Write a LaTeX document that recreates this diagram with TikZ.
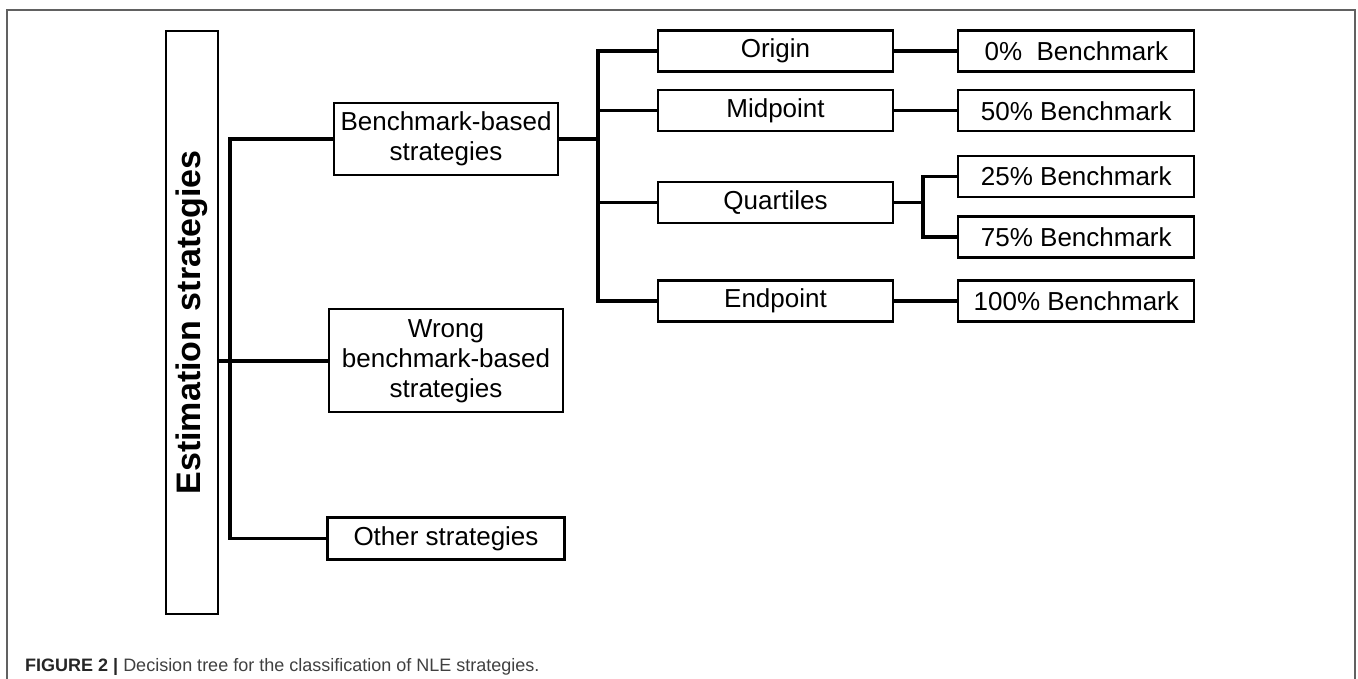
\documentclass[tikz,border=0pt]{standalone}
\usepackage{fontspec}
\setmainfont{Liberation Sans}
\usepackage{tikz}
\usetikzlibrary{positioning}

\begin{document}
\begin{tikzpicture}[x=1pt, y=-1pt, node distance=17pt,
    box/.style={draw, line width=2.3pt, inner sep=0pt, minimum width=235pt, minimum height=41pt, align=center,
      font=\fontsize{26}{30}\selectfont},
    conn/.style={line width=3.4pt},
    frame/.style={draw=black!62, line width=1.5pt}]
    \useasboundingbox (0,0) rectangle (1358,679);
    \draw[frame] (7,679) -- (7,10) -- (1355,10) -- (1355,679);

    \node[box, minimum width=52pt, minimum height=583pt] (est) at (192,322.5)
        {\rotatebox{90}{\fontsize{34}{40}\selectfont\bfseries Estimation strategies}};
    \node[box, minimum width=224pt, minimum height=72pt] (bench) at (446,139) {Benchmark-based\\strategies};
    \node[box, minimum width=234pt, minimum height=103pt] (wrong) [below=132pt of bench] {Wrong\\benchmark-based\\strategies};
    \node[box, minimum width=237pt, minimum height=42pt] (other) [below=103pt of wrong] {Other strategies};

    \node[box] (origin) at (775.5,51) {Origin};
    \node[box] (midpoint) [below=16.5pt of origin] {Midpoint};
    \node[box] (quartiles) [below=48.5pt of midpoint] {Quartiles};
    \node[box] (endpoint) [below=55pt of quartiles] {Endpoint};

    \node[box, minimum width=236pt] (b0) [right=63pt of origin] {0\%\ \ Benchmark};
    \node[box, minimum width=236pt] (b50) [right=63pt of midpoint] {50\% Benchmark};
    \node[box, minimum width=236pt] (b25) [below=22.5pt of b50] {25\% Benchmark};
    \node[box, minimum width=236pt] (b75) [below=of b25] {75\% Benchmark};
    \node[box, minimum width=236pt] (b100) [right=63pt of endpoint] {100\% Benchmark};

    \coordinate (t1) at (230,0);
    \coordinate (t2) at (598,0);
    \coordinate (t3) at (923,0);

    \draw[conn] (bench.west) -- (bench.west -| t1) -- (other.west -| t1) -- (other.west);
    \draw[conn] (est.east |- wrong.west) -- (wrong.west);
    \draw[conn] (bench.east) -- (bench.east -| t2);
    \draw[conn] (origin.west) -- (origin.west -| t2) -- (endpoint.west -| t2) -- (endpoint.west);
    \draw[conn] (midpoint.west -| t2) -- (midpoint.west);
    \draw[conn] (quartiles.west -| t2) -- (quartiles.west);
    \draw[conn] (origin) -- (b0);
    \draw[conn] (midpoint) -- (b50);
    \draw[conn] (endpoint) -- (b100);
    \draw[conn] (quartiles.east) -- (quartiles.east -| t3);
    \draw[conn] (b25.west) -- (b25.west -| t3) -- (b75.west -| t3) -- (b75.west);

    \node[anchor=base west, inner sep=0pt, text=black!75, font=\fontsize{18}{21}\selectfont] (caption) at (25,671)
        {\textbf{\color{black!85}FIGURE 2 |} Decision tree for the classification of NLE strategies.};
\end{tikzpicture}
\end{document}
